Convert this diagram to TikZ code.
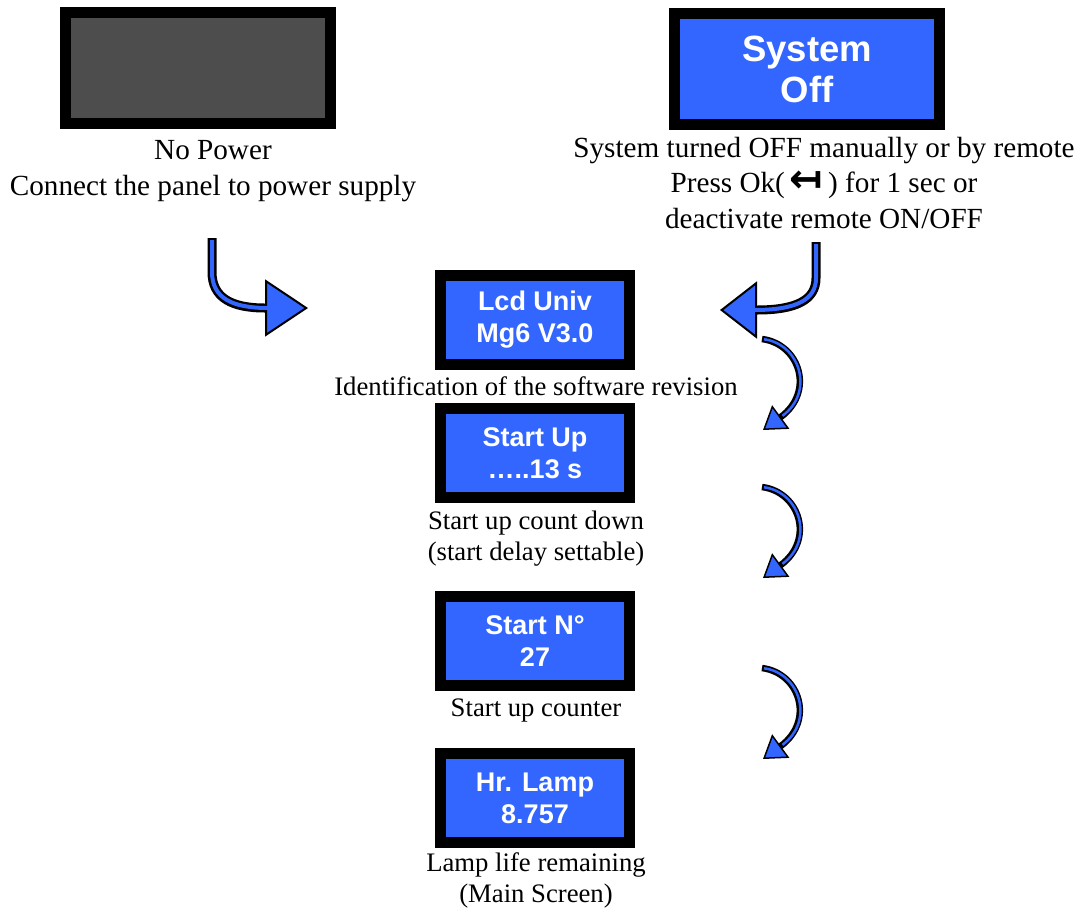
\documentclass[tikz,border=0pt]{standalone}
\usepackage{fontspec}
\setmainfont{Liberation Serif}
\newfontfamily\scrfont{Liberation Sans}
\newfontfamily\symfont{DejaVu Sans}
\usetikzlibrary{arrows.meta,calc}
\definecolor{scrblue}{RGB}{51,102,255}
\definecolor{scrgrey}{RGB}{77,77,77}

\begin{document}
\begin{tikzpicture}[x=1pt,y=-1pt,
    screen/.style={draw=black, line width=11pt, fill=scrblue, text=white, align=center, inner sep=0pt,
        minimum width=189pt, minimum height=89pt, font=\scrfont\bfseries\fontsize{27}{32}\selectfont},
    bigscreen/.style={screen, minimum width=265pt, minimum height=111pt, font=\scrfont\bfseries\fontsize{36.5}{41}\selectfont},
    note/.style={anchor=base, align=center, inner sep=0pt, font=\fontsize{26.7}{30.5}\selectfont},
    topnote/.style={note, font=\fontsize{29.2}{35.5}\selectfont},
    bendarrow/.style={line width=6.5pt, -{Triangle[length=22pt,width=29pt,fill=scrblue,line width'=1.5pt]}},
    bigarrow/.style={line width=9pt, -{Triangle[length=#1,width=57pt,fill=scrblue,line width'=2pt]}}]
    \useasboundingbox (0,0) rectangle (1083,911);

    % screens
    \node[bigscreen, fill=scrgrey] (nopower) at (198,68) {};
    \node[bigscreen] (sysoff) at (807,69) {System\\Off};
    \node[screen] (lcd) at (535,320) {Lcd Univ\\Mg6 V3.0};
    \node[screen] (startup) at (535,453) {Start Up\\…..13 s};
    \node[screen] (startn) at (535,641) {Start N°\\27};
    \node[screen] (lamp) at (535,798) {Hr. Lamp\\8.757};

    % notes (base = last line)
    \node[topnote] (nopowernote) at (213,195) {No Power\\Connect the panel to power supply};
    \node[topnote] (sysoffnote) at (824,228) {System turned OFF manually or by remote\\Press Ok(\,{\symfont\bfseries\fontsize{40}{28}\selectfont ↤}\,) for 1 sec or\\deactivate remote ON/OFF};
    \node[note] (lcdnote) at (536,395) {Identification of the software revision};
    \node[note] (startupnote) at (536,560) {Start up count down\\(start delay settable)};
    \node[note] (startnnote) at (536,716) {Start up counter};
    \node[note] (lampnote) at (536,902) {Lamp life remaining\\(Main Screen)};

    % bent arrows between screens
    \coordinate (a1) at (762,339); \coordinate (b1) at (763,430);
    \coordinate (a2) at (762,487); \coordinate (b2) at (763,578);
    \coordinate (a3) at (762,668); \coordinate (b3) at (763,759);
    \foreach \i in {1,2,3} {
        \draw[bendarrow] (a\i) .. controls ($(a\i)+(38,5)$) and ($(a\i)+(53,53)$) .. (b\i);
        \draw[scrblue, line width=2.5pt, shorten <=2pt, shorten >=24pt] (a\i) .. controls ($(a\i)+(38,5)$) and ($(a\i)+(53,53)$) .. (b\i);
    }

    % entry arrows
    \coordinate (p1) at (212,238); \coordinate (q1) at (308,308);
    \draw[bigarrow=43pt] (p1) -- (212,272) .. controls (212,298) and (232,308) .. (265,308) -- (q1);
    \draw[scrblue, line width=4pt, shorten <=2pt] (p1) -- (212,272) .. controls (212,298) and (232,308) .. (268,308);
    \coordinate (p2) at (816,242); \coordinate (q2) at (720,310);
    \draw[bigarrow=37pt] (p2) -- (816,278) .. controls (816,300) and (796,310) .. (757,310) -- (q2);
    \draw[scrblue, line width=4pt, shorten <=2pt] (p2) -- (816,278) .. controls (816,300) and (796,310) .. (754,310);
\end{tikzpicture}
\end{document}
